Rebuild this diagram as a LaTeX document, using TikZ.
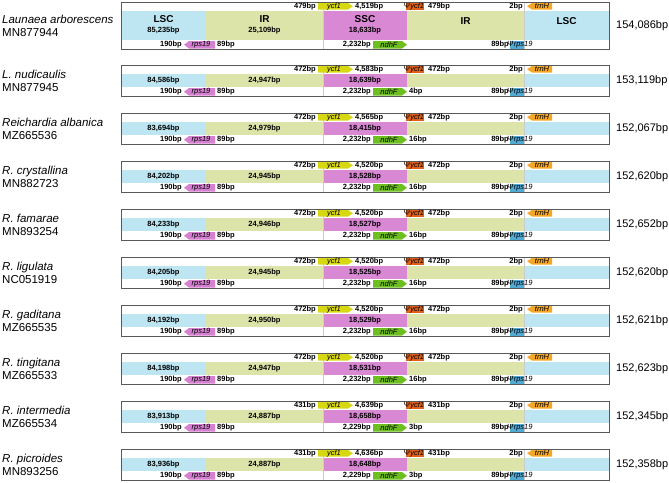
\documentclass[tikz,border=0pt]{standalone}
\usepackage{fontspec}
\setmainfont{Liberation Sans}
\usepackage{tikz}
\usetikzlibrary{positioning}

\definecolor{lscblue}{HTML}{BEE6F2}
\definecolor{irolive}{HTML}{DDE4AA}
\definecolor{sscpink}{HTML}{D988D4}
\definecolor{ycfyellow}{HTML}{D8D812}
\definecolor{psiorange}{HTML}{E0621A}
\definecolor{trnhorange}{HTML}{F5A727}
\definecolor{ndhgreen}{HTML}{6DBE1F}
\definecolor{rpspink}{HTML}{D580D0}
\definecolor{psiblue}{HTML}{51A9D5}

\newcommand\regname[1]{{\fontsize{10}{12}\selectfont #1}}

\begin{document}
\begin{tikzpicture}[x=1pt, y=-1pt,
  every node/.style={inner sep=0pt},
  bplabel/.style={font=\fontsize{7.5}{9}\selectfont\bfseries},
  genelabel/.style={font=\fontsize{7.5}{9}\selectfont\itshape},
  region/.style={font=\fontsize{7.5}{9}\selectfont\bfseries, align=center},
  species/.style={font=\fontsize{11.5}{13}\selectfont, align=left, anchor=west},
  total/.style={font=\fontsize{11}{13}\selectfont, anchor=west},
  frame/.style={draw=black!65, line width=0.8pt},
  boundary/.style={draw=black!20, line width=0.5pt},
]
\useasboundingbox (0,0) rectangle (669,482);
% one plastome per row: top y, height of the region band, names, lengths
\foreach \yt/\hm/\sp/\ac/\lsc/\ir/\ssc/\ja/\jb/\jn/\jc/\tot [count=\i] in {
  2/29.5/{Launaea arborescens}/MN877944/{\regname{LSC}\\[1pt]85,235bp}/{\regname{IR}\\[1pt]25,109bp}/{\regname{SSC}\\[1pt]18,633bp}/479bp/{4,519bp}/{2,232bp}/{}/{154,086bp},
  65/13.5/{L. nudicaulis}/MN877945/{84,586bp}/{24,947bp}/{18,639bp}/472bp/{4,583bp}/{2,232bp}/4bp/{153,119bp},
  113/13.5/{Reichardia albanica}/MZ665536/{83,694bp}/{24,979bp}/{18,415bp}/472bp/{4,565bp}/{2,232bp}/16bp/{152,067bp},
  161/13.5/{R. crystallina}/MN882723/{84,202bp}/{24,945bp}/{18,528bp}/472bp/{4,520bp}/{2,232bp}/16bp/{152,620bp},
  209/13.5/{R. famarae}/MN893254/{84,233bp}/{24,946bp}/{18,527bp}/472bp/{4,520bp}/{2,232bp}/16bp/{152,652bp},
  257/13.5/{R. ligulata}/NC051919/{84,205bp}/{24,945bp}/{18,525bp}/472bp/{4,520bp}/{2,232bp}/16bp/{152,620bp},
  305/13.5/{R. gaditana}/MZ665535/{84,192bp}/{24,950bp}/{18,529bp}/472bp/{4,520bp}/{2,232bp}/16bp/{152,621bp},
  353/13.5/{R. tingitana}/MZ665533/{84,198bp}/{24,947bp}/{18,531bp}/472bp/{4,520bp}/{2,232bp}/16bp/{152,623bp},
  401/13.5/{R. intermedia}/MZ665534/{83,913bp}/{24,887bp}/{18,658bp}/431bp/{4,639bp}/{2,229bp}/3bp/{152,345bp},
  449/13.5/{R. picroides}/MN893256/{83,936bp}/{24,887bp}/{18,648bp}/431bp/{4,636bp}/{2,229bp}/3bp/{152,358bp}%
}{
  \pgfmathsetmacro\ym{\yt+8.5}
  \pgfmathsetmacro\yb{\ym+\hm}
  \pgfmathsetmacro\ye{\yb+9.5}
  \pgfmathsetmacro\yc{(\yt+\ye)/2}
  \pgfmathsetmacro\yr{(\ym+\yb)/2}
  \pgfmathsetmacro\ys{\yt+4.25}
  \pgfmathsetmacro\yf{\yb+4.75}
  % LSC / IR / SSC / IR / LSC
  \fill[lscblue] (121,\ym) rectangle (206,\yb);
  \fill[irolive] (206,\ym) rectangle (323,\yb);
  \fill[sscpink] (323,\ym) rectangle (407,\yb);
  \fill[irolive] (407,\ym) rectangle (524,\yb);
  \fill[lscblue] (524,\ym) rectangle (609,\yb);
  \draw[boundary] (323,\yt) -- (323,\ye) (524,\yt) -- (524,\ye);
  % genes above
  \fill[ycfyellow] (318,\yt+1) -- (348,\yt+1) -- (353,\ys) -- (348,\yt+7.5) -- (318,\yt+7.5) -- cycle;
  \fill[psiorange] (406,\yt+0.8) rectangle (424,\yt+7.7);
  \fill[trnhorange] (527,\ys) -- (532,\yt+1) -- (552,\yt+1) -- (552,\yt+7.5) -- (532,\yt+7.5) -- cycle;
  % genes below
  \fill[rpspink] (184,\yf) -- (189,\yb+1) -- (215,\yb+1) -- (215,\ye-1) -- (189,\ye-1) -- cycle;
  \fill[ndhgreen] (373,\yb+1) -- (402,\yb+1) -- (407,\yf) -- (402,\ye-1) -- (373,\ye-1) -- cycle;
  \fill[psiblue] (510,\yb+0.8) rectangle (524,\ye-0.8);
  \draw[frame] (121,\yt) rectangle (609,\ye);
  % names and sizes
  \node[species] (sp-\i) at (2,\yc) {\textit{\sp}\\\ac};
  \node[total] (tot-\i) at (616,\yc) {\tot};
  \node[region] (lsc-\i) at (163.5,\yr) {\lsc};
  \node[region] (ir-\i) at (264.5,\yr) {\ir};
  \node[region] (ssc-\i) at (365,\yr) {\ssc};
  % junction labels above
  \node[bplabel, anchor=east] (ja-\i) at (316,\ys) {\ja};
  \node[genelabel] (ycf-\i) at (334,\ys) {ycf1};
  \node[bplabel, anchor=west] (jb-\i) at (355,\ys) {\jb};
  \node[genelabel] (psiycf-\i) at (414,\ys) {\textup{Ψ}ycf1};
  \node[bplabel, anchor=west] (jd-\i) at (428,\ys) {\ja};
  \node[bplabel, anchor=east] (two-\i) at (523,\ys) {2bp};
  \node[genelabel] (trnh-\i) at (542,\ys) {trnH};
  % junction labels below
  \node[bplabel, anchor=east] (lb-\i) at (182,\yf) {190bp};
  \node[genelabel] (rps-\i) at (201,\yf) {rps19};
  \node[bplabel, anchor=west] (rb-\i) at (217,\yf) {89bp};
  \node[bplabel, anchor=east] (nl-\i) at (371,\yf) {\jn};
  \node[genelabel] (ndh-\i) at (389,\yf) {ndhF};
  \node[bplabel, anchor=west] (nr-\i) at (409,\yf) {\jc};
  \node[bplabel, anchor=east] (pl-\i) at (509,\yf) {89bp};
  \node[genelabel] (psirps-\i) at (520,\yf) {\textup{Ψ}rps19};
}
% region names of the second half, first row only
\node[region] (irb-1) at (465.5,21) {\regname{IR}};
\node[region] (lscb-1) at (566.5,21) {\regname{LSC}};
\end{tikzpicture}
\end{document}
